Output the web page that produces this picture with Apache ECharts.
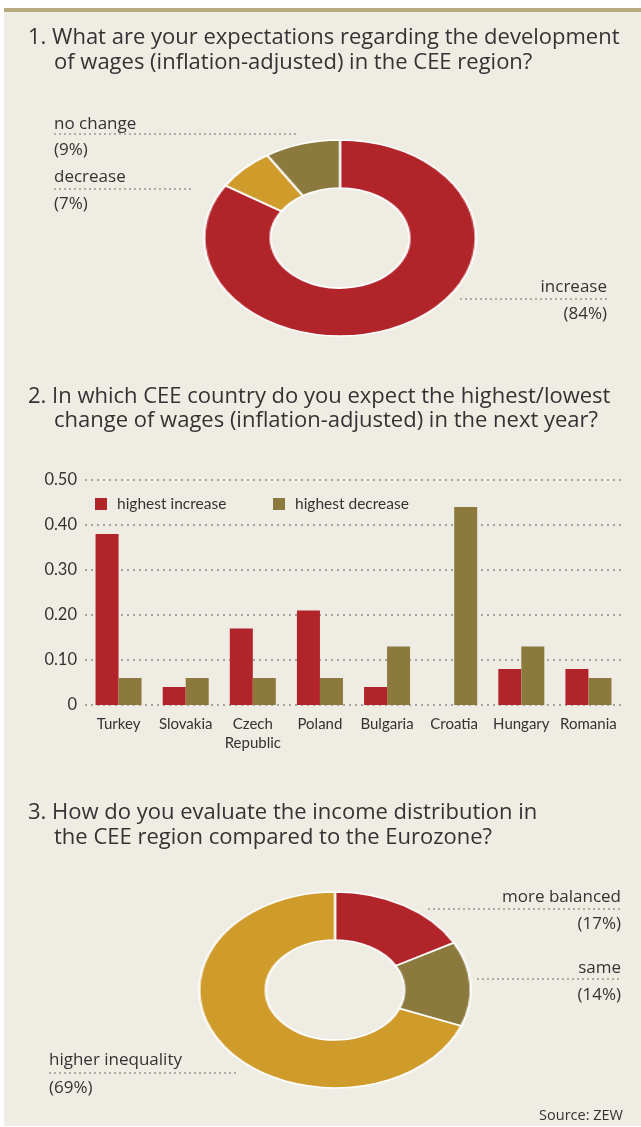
<!DOCTYPE html>
<html><head><meta charset="utf-8">
<script src="https://cdn.jsdelivr.net/npm/echarts@6/dist/echarts.min.js"></script>
<style>
html,body{margin:0;padding:0;background:#ffffff;}
#main{position:absolute;left:0;top:0;width:641px;height:1127px;}
.pie{position:absolute;width:210px;height:210px;transform-origin:50% 50%;transform:scaleX(1.385);}
#pie1{left:235px;top:133px;}
#pie2{left:230px;top:885px;}
</style></head><body>
<div id="main"></div>
<div id="pie1" class="pie"></div>
<div id="pie2" class="pie"></div>
<script>
// ---- data ----
const q1Names = ['increase', 'decrease', 'no change'];
const q1Values = [84, 7, 9];
const countries = ['Turkey', 'Slovakia', 'Czech\nRepublic', 'Poland', 'Bulgaria', 'Croatia', 'Hungary', 'Romania'];
const highestIncrease = [0.38, 0.04, 0.17, 0.21, 0.04, 0, 0.08, 0.08];
const highestDecrease = [0.06, 0.06, 0.06, 0.06, 0.13, 0.44, 0.13, 0.06];
const yTickLabels = ['0', '0.10', '0.20', '0.30', '0.40', '0.50'];
const q3Names = ['more balanced', 'same', 'higher inequality'];
const q3Values = [17, 14, 69];

// ---- styles ----
const FONT = '"Open Sans"';
const AXFONT = 'Lato';
const TXT = '#333333';
const BG = '#efece4';
const RED = '#b1242a';
const OLIVE = '#8b793d';
const GOLD = '#cf9b2b';
const TAN = '#b8a97e';
const DOT = '#6e6e6e';

function txt(x, y, s, size, align, fam) {
  return { type: 'text', x: x, y: y, silent: true,
    style: { text: s, fill: TXT, font: size + 'px ' + (fam || FONT), textAlign: align || 'left', textVerticalAlign: 'middle' } };
}
function dots(x1, x2, y) {
  return { type: 'line', silent: true, shape: { x1: x1, y1: y, x2: x2, y2: y },
    style: { stroke: DOT, lineWidth: 1.2, lineDash: [2, 3] } };
}

const TS = 22, LS = 17;
const graphics = [
  { type: 'rect', silent: true, z: -10, shape: { x: 4, y: 8, width: 637, height: 1118 }, style: { fill: BG } },
  { type: 'rect', silent: true, z: -9, shape: { x: 4, y: 8, width: 637, height: 4 }, style: { fill: TAN } },
  txt(28, 38, '1. What are your expectations regarding the development', TS),
  txt(54, 63, 'of wages (inflation-adjusted) in the CEE region?', TS),
  txt(28, 397, '2. In which CEE country do you expect the highest/lowest', TS),
  txt(54, 421, 'change of wages (inflation-adjusted) in the next year?', TS),
  txt(28, 813, '3. How do you evaluate the income distribution in', TS),
  txt(54, 838, 'the CEE region compared to the Eurozone?', TS),
  // donut 1 labels
  txt(54, 124, q1Names[2], LS), dots(54, 297, 134), txt(54, 150, '(' + q1Values[2] + '%)', LS),
  txt(54, 177, q1Names[1], LS), dots(54, 192, 189), txt(54, 204, '(' + q1Values[1] + '%)', LS),
  txt(607, 287, q1Names[0], LS, 'right'), dots(460, 607, 299), txt(607, 314, '(' + q1Values[0] + '%)', LS, 'right'),
  // donut 2 labels
  txt(621, 897, q3Names[0], LS, 'right'), dots(428, 621, 909), txt(621, 924, '(' + q3Values[0] + '%)', LS, 'right'),
  txt(621, 968, q3Names[1], LS, 'right'), dots(477, 621, 979), txt(621, 995, '(' + q3Values[1] + '%)', LS, 'right'),
  txt(49, 1060, q3Names[2], LS), dots(49, 238, 1073), txt(49, 1088, '(' + q3Values[2] + '%)', LS),
  txt(623, 1116, 'Source: ZEW', 14.5, 'right')
];

const main = echarts.init(document.getElementById('main'), null, { renderer: 'canvas' });
main.setOption({
  animation: false,
  backgroundColor: 'transparent',
  textStyle: { fontFamily: AXFONT, color: TXT },
  graphic: graphics,
  legend: [
    { data: ['highest increase'], left: 95, top: 496, padding: 0, icon: 'rect', itemWidth: 12, itemHeight: 12,
      selectedMode: false, textStyle: { fontFamily: AXFONT, fontSize: 15.5, color: TXT, padding: [0, 0, 0, 5], lineHeight: 12 } },
    { data: ['highest decrease'], left: 273, top: 496, padding: 0, icon: 'rect', itemWidth: 12, itemHeight: 12,
      selectedMode: false, textStyle: { fontFamily: AXFONT, fontSize: 15.5, color: TXT, padding: [0, 0, 0, 5], lineHeight: 12 } }
  ],
  grid: { left: 85, right: 19, top: 480, bottom: 422, containLabel: false },
  xAxis: {
    type: 'category', data: countries,
    axisLine: { show: false }, axisTick: { show: false },
    axisLabel: { fontFamily: AXFONT, fontSize: 15, color: TXT, margin: 10, lineHeight: 19, interval: 0 }
  },
  yAxis: {
    type: 'value', min: 0, max: 0.5, interval: 0.1,
    axisLine: { show: false }, axisTick: { show: false },
    axisLabel: { fontFamily: AXFONT, fontSize: 16.5, color: TXT, margin: 8,
      formatter: function (v) { return yTickLabels[Math.round(v * 10)]; } },
    splitLine: { lineStyle: { type: [2, 4], color: '#8a8a8a', width: 1.5 } }
  },
  series: [
    { name: 'highest increase', type: 'bar', data: highestIncrease, barWidth: 23, barGap: '0%',
      itemStyle: { color: RED }, silent: true },
    { name: 'highest decrease', type: 'bar', data: highestDecrease, barWidth: 23, barGap: '0%',
      itemStyle: { color: OLIVE }, silent: true }
  ]
});

function pieOption(names, values, colors) {
  return {
    animation: false,
    backgroundColor: 'transparent',
    series: [{
      type: 'pie', radius: [50, 98], center: ['50%', '50%'], startAngle: 90, clockwise: true,
      silent: true, label: { show: false }, labelLine: { show: false },
      itemStyle: { borderColor: '#ffffff', borderWidth: 1.6 },
      data: names.map(function (n, i) { return { name: n, value: values[i], itemStyle: { color: colors[i] } }; })
    }]
  };
}
echarts.init(document.getElementById('pie1')).setOption(pieOption(q1Names, q1Values, [RED, GOLD, OLIVE]));
echarts.init(document.getElementById('pie2')).setOption(pieOption(q3Names, q3Values, [RED, OLIVE, GOLD]));
</script>
</body></html>
